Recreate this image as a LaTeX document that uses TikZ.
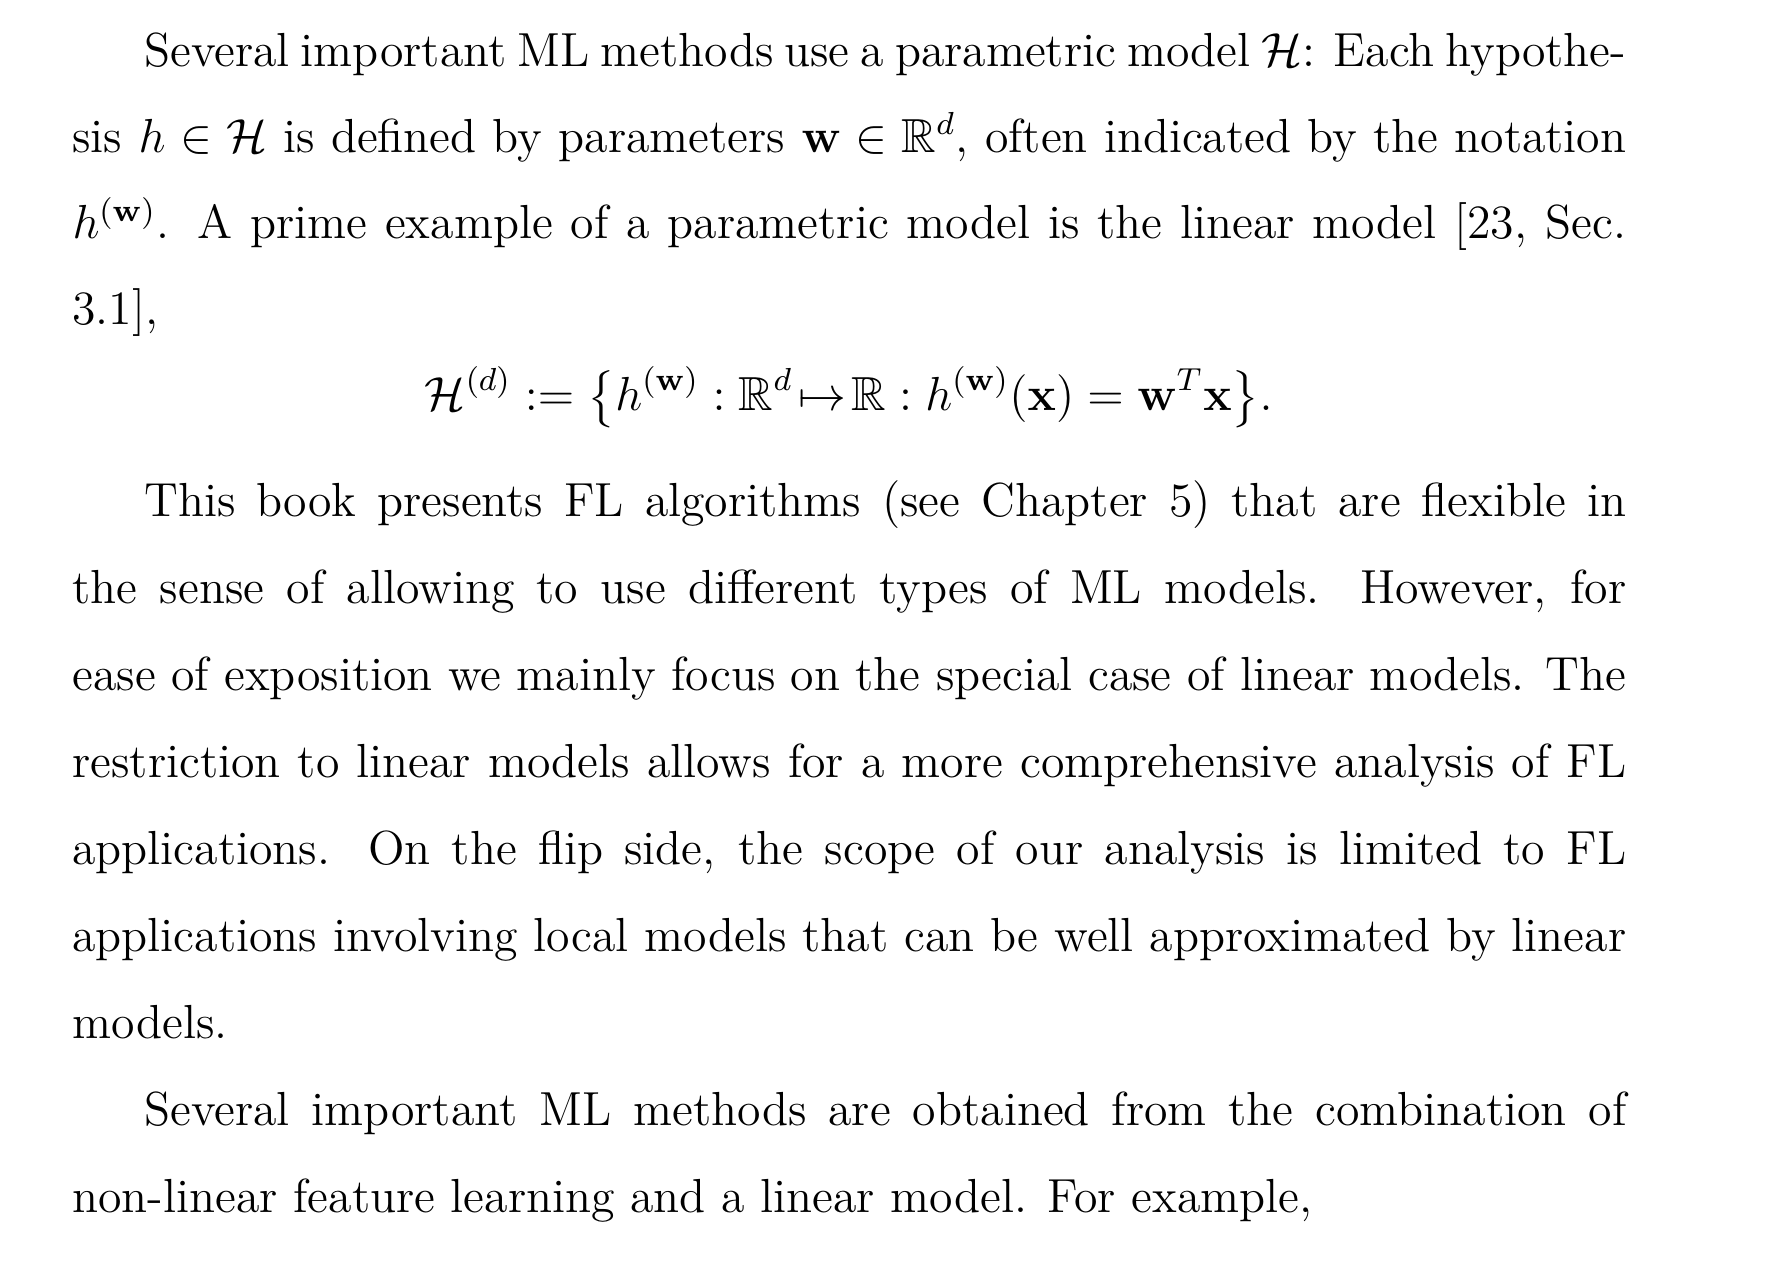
\documentclass[tikz,border=0pt]{standalone}
\usepackage{amsmath,amssymb}
\tikzset{
    textline/.style={anchor=base west, inner sep=0pt,
        font=\fontsize{12}{14.5}\selectfont},
    formula/.style={anchor=base, inner sep=0pt,
        font=\fontsize{12}{14.5}\selectfont}
}
\newcommand{\fullline}[1]{\makebox[390pt][s]{#1}}
\newcommand{\indline}[1]{\makebox[372pt][s]{#1}}

\begin{document}
\begin{tikzpicture}[x=1.0058pt, y=1.0058pt]
    \path[fill=white, use as bounding box] (0, 0) rectangle (442.7, -314.9);

    \node[textline] (par1-a) at (35.8, -16.5) {\indline{Several important ML
        methods use a parametric model $\mathcal{H}$: Each hypothe-}};
    \node[textline] (par1-b) at (17.9, -38.0) {\fullline{sis $h \in
        \mathcal{H}$ is defined by parameters $\mathbf{w} \in
        \mathbb{R}^{d}$, often indicated by the notation}};
    \node[textline] (par1-c) at (17.9, -59.5) {\fullline{$h^{(\mathbf{w})}$.
        A prime example of a parametric model is the linear model [23, Sec.}};
    \node[textline] (par1-d) at (17.9, -81.0) {3.1],};
    \node[formula] (linmodel) at (211.8, -102.5) {$\displaystyle
        \mathcal{H}^{(d)} := \big\{ h^{(\mathbf{w})} :
        \mathbb{R}^{d}\!\mapsto\!\mathbb{R} : h^{(\mathbf{w})}(\mathbf{x}) =
        \mathbf{w}^{T}\mathbf{x} \big\}.$};

    \node[textline] (par2-a) at (35.8, -129.0) {\indline{This book presents
        FL algorithms (see Chapter 5) that are flexible in}};
    \node[textline] (par2-b) at (17.9, -150.7) {\fullline{the sense of
        allowing to use different types of ML models.  However, for}};
    \node[textline] (par2-c) at (17.9, -172.4) {\fullline{ease of exposition
        we mainly focus on the special case of linear models. The}};
    \node[textline] (par2-d) at (17.9, -194.1) {\fullline{restriction to
        linear models allows for a more comprehensive analysis of FL}};
    \node[textline] (par2-e) at (17.9, -215.8) {\fullline{applications.  On
        the flip side, the scope of our analysis is limited to FL}};
    \node[textline] (par2-f) at (17.9, -237.5) {\fullline{applications
        involving local models that can be well approximated by linear}};
    \node[textline] (par2-g) at (17.9, -259.2) {models.};

    \node[textline] (par3-a) at (35.8, -280.9) {\indline{Several important
        ML methods are obtained from the combination of}};
    \node[textline] (par3-b) at (17.9, -302.6) {non-linear feature learning
        and a linear model. For example,};
\end{tikzpicture}
\end{document}
